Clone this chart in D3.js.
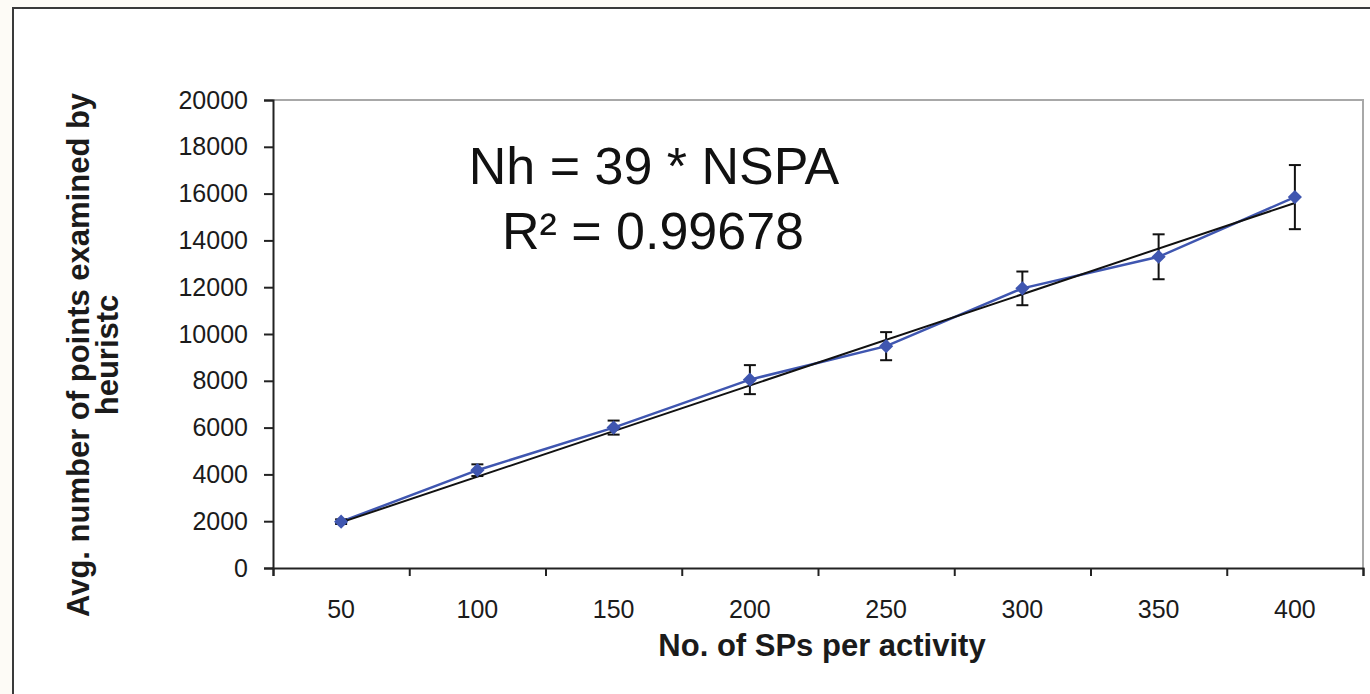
<!DOCTYPE html>
<html>
<head>
<meta charset="utf-8">
<script src="https://cdn.jsdelivr.net/npm/d3@7"></script>
<style>
  body { margin: 0; background: #fdfbf6; }
  svg { display: block; font-family: "Liberation Sans", Arial, sans-serif; }
</style>
</head>
<body>
<script>
// chart data
var categories = [50, 100, 150, 200, 250, 300, 350, 400]
var avgPoints = [1980, 4180, 6000, 8050, 9480, 11950, 13300, 15850]
var errorSize = [100, 250, 300, 620, 600, 720, 960, 1370]
var yTicks = [0, 2000, 4000, 6000, 8000, 10000, 12000, 14000, 16000, 18000, 20000]
var slope = 39

var w = 1370, h = 694
var margin = {top: 100, right: 7, bottom: 126, left: 273}

var svg = d3.select("body").append("svg")
    .attr("width", w)
    .attr("height", h)

// outer frame of the figure
svg.append("rect")
    .attr("x", 13).attr("y", 8)
    .attr("width", 1400).attr("height", 720)
    .style("fill", "white")
    .style("stroke", "#3a3a3a")
    .style("stroke-width", 2)

var x = d3.scaleBand()
    .domain(categories)
    .range([margin.left, w - margin.right])

var xEdges = d3.scaleLinear()
    .domain([0, categories.length])
    .range([margin.left, w - margin.right])

var y = d3.scaleLinear()
    .domain([0, 20000])
    .range([h - margin.bottom, margin.top])

// plot area border (top and right, gray)
svg.append("path")
    .attr("d", "M" + margin.left + "," + y(20000) + "H" + (w - margin.right) + "V" + y(0))
    .style("fill", "none")
    .style("stroke", "#a8a8a8")
    .style("stroke-width", 2)

// y axis
var yAxis = svg.append("g")
    .attr("transform", "translate(" + margin.left + ",0)")
    .call(d3.axisLeft(y).tickValues(yTicks).tickSize(9).tickPadding(16).tickFormat(d3.format("d")))
yAxis.selectAll("path, line").style("stroke", "#222").style("stroke-width", 2)
yAxis.selectAll("text").style("font-size", "25px").style("fill", "#1b1b1b")
    .style("font-family", "'Liberation Sans', Arial, sans-serif")

// x axis: ticks on the category edges, labels in the middle
var xAxis = svg.append("g")
    .attr("transform", "translate(0," + y(0) + ")")
    .call(d3.axisBottom(xEdges).tickValues(d3.range(0, categories.length + 1)).tickSize(8).tickFormat(""))
xAxis.selectAll("path, line").style("stroke", "#222").style("stroke-width", 2)

svg.append("g").selectAll("text")
    .data(categories)
    .enter().append("text")
    .attr("x", function(d) { return x(d) + x.bandwidth() / 2 })
    .attr("y", y(0) + 50)
    .attr("text-anchor", "middle")
    .style("font-size", "25px")
    .style("fill", "#1b1b1b")
    .text(function(d) { return d })

// axis titles
svg.append("text")
    .attr("x", 822).attr("y", 656)
    .attr("text-anchor", "middle")
    .style("font-size", "31px")
    .style("font-weight", "bold")
    .style("fill", "#1b1b1b")
    .text("No. of SPs per activity")

var yTitle = svg.append("text")
    .attr("transform", "translate(89,355) rotate(-90)")
    .attr("text-anchor", "middle")
    .style("font-size", "31px")
    .style("font-weight", "bold")
    .style("fill", "#1b1b1b")
yTitle.append("tspan").attr("x", 0).attr("y", 0).text("Avg. number of points examined by")
yTitle.append("tspan").attr("x", 0).attr("y", 0).attr("dy", 29).text("heuristc")

var cx = function(d) { return x(d) + x.bandwidth() / 2 }
var pts = categories.map(function(c, i) { return {cat: c, v: avgPoints[i], e: errorSize[i]} })

// data line
var line = d3.line()
    .x(function(d) { return cx(d.cat) })
    .y(function(d) { return y(d.v) })

svg.append("path")
    .datum(pts)
    .attr("d", line)
    .style("fill", "none")
    .style("stroke", "#3f56b0")
    .style("stroke-width", 2.5)

// trend line Nh = 39 * NSPA
var first = categories[0], last = categories[categories.length - 1]
svg.append("line")
    .attr("x1", cx(first)).attr("y1", y(slope * first))
    .attr("x2", cx(last)).attr("y2", y(slope * last))
    .style("stroke", "#111")
    .style("stroke-width", 2)

// error bars
var eb = svg.append("g").selectAll("g")
    .data(pts)
    .enter().append("g")
    .style("stroke", "#111")
    .style("stroke-width", 2)

eb.append("line")
    .attr("x1", function(d) { return cx(d.cat) }).attr("x2", function(d) { return cx(d.cat) })
    .attr("y1", function(d) { return y(d.v - d.e) }).attr("y2", function(d) { return y(d.v + d.e) })
eb.append("line")
    .attr("x1", function(d) { return cx(d.cat) - 6 }).attr("x2", function(d) { return cx(d.cat) + 6 })
    .attr("y1", function(d) { return y(d.v + d.e) }).attr("y2", function(d) { return y(d.v + d.e) })
eb.append("line")
    .attr("x1", function(d) { return cx(d.cat) - 6 }).attr("x2", function(d) { return cx(d.cat) + 6 })
    .attr("y1", function(d) { return y(d.v - d.e) }).attr("y2", function(d) { return y(d.v - d.e) })

// markers: square diamonds, on top
svg.append("g").selectAll("path")
    .data(pts)
    .enter().append("path")
    .attr("d", d3.symbol().type(d3.symbolSquare).size(100))
    .attr("transform", function(d) { return "translate(" + cx(d.cat) + "," + y(d.v) + ") rotate(45)" })
    .style("fill", "#3f56b0")

// equation text
svg.append("text")
    .attr("x", 654).attr("y", 184)
    .attr("text-anchor", "middle")
    .style("font-size", "52px")
    .style("fill", "#111")
    .text("Nh = 39 * NSPA")

svg.append("text")
    .attr("x", 653).attr("y", 249)
    .attr("text-anchor", "middle")
    .style("font-size", "52px")
    .style("fill", "#111")
    .text("R² = 0.99678")
</script>
</body>
</html>
